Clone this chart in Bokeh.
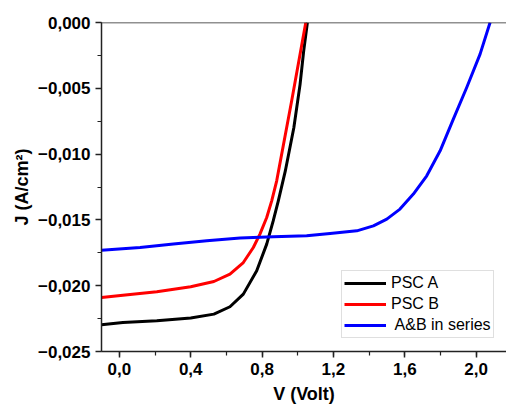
from bokeh.plotting import figure
from bokeh.models import Range1d, SingleIntervalTicker, CustomJSTickFormatter, Span, Legend, LegendItem
from bokeh.embed import file_html
from bokeh.resources import INLINE

# PSC A (black)
v_a = [-0.10, 0.02, 0.21, 0.40, 0.53, 0.62, 0.695, 0.77, 0.826, 0.862, 0.891, 0.93, 0.978, 1.013, 1.033, 1.054]
j_a = [-0.02297, -0.02280, -0.02267, -0.02246, -0.02216, -0.02160, -0.02064, -0.01887, -0.01684, -0.01510, -0.01355, -0.01130, -0.00800, -0.00470, -0.00220, 0.0]
# PSC B (red)
v_b = [-0.10, 0.02, 0.21, 0.40, 0.53, 0.62, 0.695, 0.751, 0.788, 0.826, 0.854, 0.882, 0.966, 1.045]
j_b = [-0.02090, -0.02072, -0.02046, -0.02008, -0.01968, -0.01912, -0.01824, -0.01710, -0.01608, -0.01482, -0.01355, -0.01203, -0.00595, 0.0]
# A&B in series (blue)
v_s = [-0.10, 0.116, 0.303, 0.49, 0.677, 0.863, 1.05, 1.181, 1.331, 1.424, 1.499, 1.573, 1.648, 1.723, 1.798, 1.872, 1.947, 2.022, 2.078]
j_s = [-0.01730, -0.01710, -0.01684, -0.01659, -0.01638, -0.01628, -0.01621, -0.01603, -0.01583, -0.01545, -0.01494, -0.01418, -0.01304, -0.01165, -0.00975, -0.00734, -0.00494, -0.00240, 0.0]

labels = ["PSC A", "PSC B", " A&B in series"]
colors = ["black", "#ff0000", "#0000ff"]

FONT = "Liberation Sans"

p = figure(width=506, height=410, output_backend="svg", toolbar_location=None,
           x_range=Range1d(-0.1, 2.17), y_range=Range1d(-0.025, 0.0),
           min_border_left=101, min_border_right=0, min_border_top=22, min_border_bottom=59)
p.outline_line_color = None
p.grid.visible = False
p.background_fill_color = "white"
p.border_fill_color = "white"

renderers = []
for xs, ys, c in zip([v_a, v_b, v_s], [j_a, j_b, j_s], colors):
    r = p.line(xs, ys, line_color=c, line_width=3, line_join="round")
    renderers.append(r)

p.add_layout(Span(location=0.0, dimension="width", line_color="#222222", line_width=1.5))

for ax in (p.xaxis[0], p.yaxis[0]):
    ax.axis_line_color = "#222222"
    ax.axis_line_width = 1.5
    ax.major_tick_line_color = "#222222"
    ax.minor_tick_line_color = "#222222"
    ax.major_tick_line_width = 1.5
    ax.minor_tick_line_width = 1.2
    ax.major_tick_in = 0
    ax.major_tick_out = 6
    ax.minor_tick_in = 0
    ax.minor_tick_out = 4
    ax.major_label_text_font = FONT
    ax.major_label_text_font_style = "bold"
    ax.major_label_text_font_size = "17px"
    ax.major_label_text_color = "black"
    ax.axis_label_text_font = FONT
    ax.axis_label_text_font_style = "bold"
    ax.axis_label_text_font_size = "18px"
    ax.axis_label_text_color = "black"
    ax.major_label_standoff = 5

p.xaxis[0].ticker = SingleIntervalTicker(interval=0.4, num_minor_ticks=2)
p.yaxis[0].ticker = SingleIntervalTicker(interval=0.005, num_minor_ticks=2)
p.xaxis[0].formatter = CustomJSTickFormatter(code="""
    if (Math.abs(tick) < 1e-9) { return '0,0'; }
    return (tick < 0 ? '\u2212' : '') + Math.abs(tick).toFixed(1).replace('.', ',');
""")
p.yaxis[0].formatter = CustomJSTickFormatter(code="""
    if (Math.abs(tick) < 1e-9) { return '0,000'; }
    return (tick < 0 ? '\u2212' : '') + Math.abs(tick).toFixed(3).replace('.', ',');
""")
p.xaxis[0].axis_label = "V (Volt)"
p.yaxis[0].axis_label = "J (A/cm\u00b2)"
p.xaxis[0].axis_label_standoff = 6
p.yaxis[0].axis_label_standoff = 3

legend = Legend(items=[LegendItem(label=l, renderers=[r]) for l, r in zip(labels, renderers)],
                location=(240, 13))
legend.label_text_font = FONT
legend.label_text_font_size = "16px"
legend.label_text_color = "black"
legend.glyph_width = 42
legend.glyph_height = 20
legend.label_height = 20
legend.label_standoff = 5
legend.spacing = 1
legend.padding = 2
legend.margin = 0
legend.border_line_color = "#c0c0c0"
legend.border_line_width = 1
legend.background_fill_alpha = 1.0
p.add_layout(legend, "center")

open("out.html", "w").write(file_html(p, INLINE))
